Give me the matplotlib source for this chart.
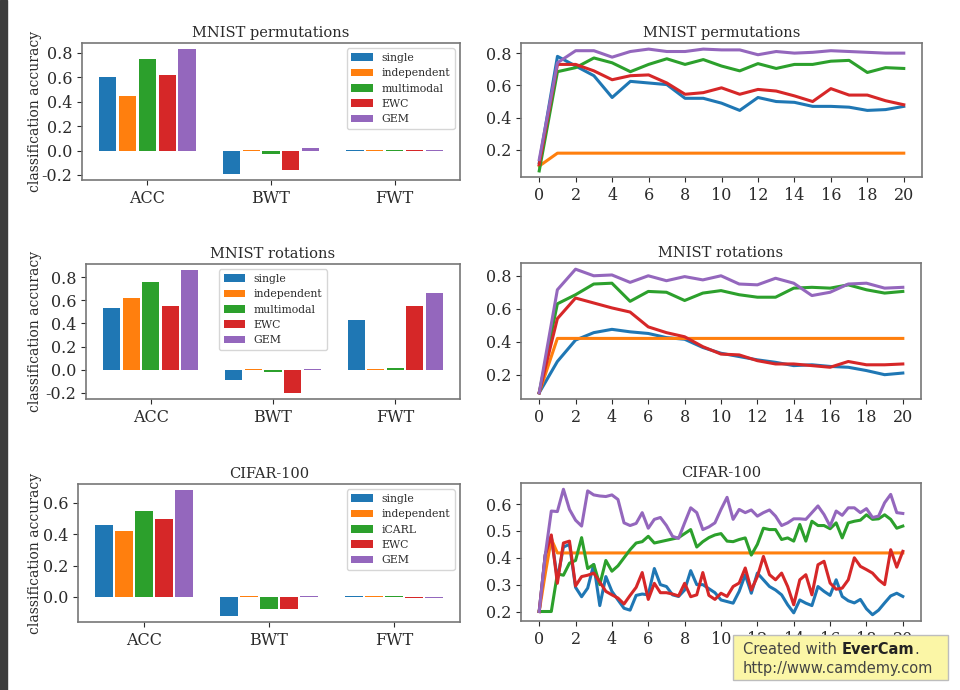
import matplotlib
matplotlib.use('Agg')
import matplotlib.pyplot as plt
from matplotlib.patches import Rectangle
import numpy as np

plt.rcParams['font.family'] = ['DejaVu Serif']
plt.rcParams['axes.unicode_minus'] = False

colors = ['#1f77b4', '#ff7f0e', '#2ca02c', '#d62728', '#9467bd']
metrics = ['ACC', 'BWT', 'FWT']
methods_mnist = ['single', 'independent', 'multimodal', 'EWC', 'GEM']
methods_cifar = ['single', 'independent', 'iCARL', 'EWC', 'GEM']

# bar values, one list per method: ACC, BWT, FWT
perm_bars = [[0.60, -0.19, 0.008],
             [0.45, 0.004, 0.006],
             [0.75, -0.03, 0.006],
             [0.62, -0.16, 0.006],
             [0.83, 0.025, 0.008]]
rot_bars = [[0.53, -0.09, 0.43],
            [0.62, 0.005, 0.004],
            [0.76, -0.02, 0.012],
            [0.55, -0.20, 0.55],
            [0.86, 0.005, 0.66]]
cifar_bars = [[0.46, -0.12, 0.003],
              [0.42, 0.003, 0.003],
              [0.55, -0.08, 0.003],
              [0.50, -0.08, -0.006],
              [0.68, 0.006, -0.006]]

# accuracy over tasks
perm_single = [0.12, 0.78, 0.72, 0.66, 0.525, 0.625, 0.615, 0.605, 0.52, 0.52, 0.49,
               0.445, 0.525, 0.50, 0.495, 0.47, 0.47, 0.465, 0.445, 0.45, 0.47]
perm_indep = [0.10, 0.18, 0.18, 0.18, 0.18, 0.18, 0.18, 0.18, 0.18, 0.18, 0.18,
              0.18, 0.18, 0.18, 0.18, 0.18, 0.18, 0.18, 0.18, 0.18, 0.18]
perm_multi = [0.07, 0.685, 0.71, 0.77, 0.74, 0.685, 0.73, 0.765, 0.73, 0.76, 0.72,
              0.69, 0.735, 0.705, 0.73, 0.73, 0.75, 0.755, 0.68, 0.71, 0.705]
perm_ewc = [0.11, 0.73, 0.73, 0.69, 0.635, 0.66, 0.665, 0.615, 0.545, 0.555, 0.585,
            0.545, 0.575, 0.565, 0.535, 0.50, 0.58, 0.54, 0.54, 0.505, 0.48]
perm_gem = [0.14, 0.74, 0.815, 0.815, 0.775, 0.81, 0.825, 0.81, 0.81, 0.825, 0.82,
            0.82, 0.79, 0.81, 0.80, 0.805, 0.815, 0.81, 0.805, 0.80, 0.80]

rot_single = [0.09, 0.28, 0.41, 0.455, 0.475, 0.46, 0.45, 0.425, 0.415, 0.365, 0.33,
              0.31, 0.29, 0.275, 0.255, 0.26, 0.25, 0.245, 0.225, 0.20, 0.21]
rot_indep = [0.09, 0.42, 0.42, 0.42, 0.42, 0.42, 0.42, 0.42, 0.42, 0.42, 0.42,
             0.42, 0.42, 0.42, 0.42, 0.42, 0.42, 0.42, 0.42, 0.42, 0.42]
rot_multi = [0.09, 0.63, 0.685, 0.75, 0.755, 0.645, 0.705, 0.70, 0.65, 0.695, 0.71,
             0.685, 0.67, 0.67, 0.725, 0.73, 0.725, 0.745, 0.715, 0.695, 0.705]
rot_ewc = [0.09, 0.54, 0.665, 0.635, 0.605, 0.58, 0.49, 0.455, 0.43, 0.37, 0.325,
           0.32, 0.285, 0.265, 0.265, 0.255, 0.245, 0.28, 0.26, 0.26, 0.265]
rot_gem = [0.09, 0.715, 0.84, 0.80, 0.805, 0.76, 0.80, 0.77, 0.795, 0.775, 0.80,
           0.75, 0.745, 0.785, 0.755, 0.68, 0.70, 0.75, 0.755, 0.725, 0.73]

cifar_single = [0.2, 0.41, 0.48, 0.32, 0.44, 0.45, 0.29, 0.255, 0.287, 0.375, 0.222,
                0.33, 0.275, 0.243, 0.212, 0.205, 0.26, 0.265, 0.262, 0.36, 0.3,
                0.293, 0.262, 0.256, 0.28, 0.352, 0.3, 0.3, 0.285, 0.27, 0.243,
                0.237, 0.231, 0.275, 0.337, 0.268, 0.343, 0.318, 0.293, 0.28, 0.262,
                0.225, 0.195, 0.243, 0.231, 0.222, 0.293, 0.275, 0.26, 0.318, 0.256,
                0.24, 0.232, 0.245, 0.21, 0.188, 0.205, 0.232, 0.258, 0.268, 0.256]
cifar_indep = [0.2, 0.34, 0.47, 0.418, 0.418, 0.418, 0.418, 0.418, 0.418, 0.418, 0.418,
               0.418, 0.418, 0.418, 0.418, 0.418, 0.418, 0.418, 0.418, 0.418, 0.418,
               0.418, 0.418, 0.418, 0.418, 0.418, 0.418, 0.418, 0.418, 0.418, 0.418,
               0.418, 0.418, 0.418, 0.418, 0.418, 0.418, 0.418, 0.418, 0.418, 0.418,
               0.418, 0.418, 0.418, 0.418, 0.418, 0.418, 0.418, 0.418, 0.418, 0.418,
               0.418, 0.418, 0.418, 0.418, 0.418, 0.418, 0.418, 0.418, 0.418, 0.418]
cifar_icarl = [0.2, 0.2, 0.2, 0.34, 0.335, 0.38, 0.39, 0.475, 0.36, 0.375, 0.30,
               0.39, 0.35, 0.37, 0.40, 0.43, 0.455, 0.46, 0.48, 0.455, 0.46,
               0.465, 0.47, 0.475, 0.49, 0.505, 0.44, 0.46, 0.475, 0.485, 0.49,
               0.462, 0.46, 0.468, 0.474, 0.41, 0.45, 0.51, 0.505, 0.505, 0.468,
               0.474, 0.462, 0.524, 0.462, 0.536, 0.52, 0.52, 0.508, 0.53, 0.474,
               0.53, 0.536, 0.54, 0.56, 0.543, 0.545, 0.56, 0.543, 0.51, 0.518]
cifar_ewc = [0.2, 0.41, 0.485, 0.305, 0.455, 0.462, 0.295, 0.33, 0.335, 0.343, 0.31,
             0.275, 0.262, 0.25, 0.228, 0.26, 0.29, 0.345, 0.245, 0.305, 0.27,
             0.27, 0.265, 0.258, 0.305, 0.255, 0.262, 0.345, 0.26, 0.245, 0.268,
             0.256, 0.293, 0.306, 0.362, 0.28, 0.33, 0.405, 0.337, 0.318, 0.343,
             0.293, 0.225, 0.318, 0.337, 0.262, 0.374, 0.387, 0.306, 0.283, 0.287,
             0.318, 0.4, 0.368, 0.356, 0.343, 0.318, 0.3, 0.43, 0.365, 0.424]
cifar_gem = [0.2, 0.41, 0.574, 0.572, 0.655, 0.58, 0.54, 0.518, 0.649, 0.634, 0.63,
             0.628, 0.634, 0.617, 0.53, 0.52, 0.528, 0.568, 0.51, 0.543, 0.55,
             0.52, 0.48, 0.472, 0.53, 0.586, 0.568, 0.505, 0.515, 0.53, 0.58,
             0.625, 0.543, 0.58, 0.568, 0.578, 0.555, 0.568, 0.578, 0.555, 0.52,
             0.53, 0.545, 0.545, 0.543, 0.568, 0.593, 0.561, 0.518, 0.574, 0.558,
             0.586, 0.586, 0.568, 0.583, 0.55, 0.555, 0.605, 0.636, 0.568, 0.565]

tasks = np.arange(21)
cifar_x = np.arange(61) / 3.0

fig = plt.figure(figsize=(9.6, 6.9), dpi=100)
fig.patches.append(Rectangle((0, 0), 7 / 960, 1, transform=fig.transFigure,
                             color='#3c3c3c', zorder=0))

text_col = '#2b2b2b'
spine_col = '#777777'


def style(ax):
    for s in ax.spines.values():
        s.set_color(spine_col)
        s.set_linewidth(1.2)
    ax.tick_params(labelsize=11.5, colors=text_col, length=3.5)
    for lab in ax.get_xticklabels() + ax.get_yticklabels():
        lab.set_color(text_col)


def bar_panel(rect, values, names, title, yticks, loc, anchor=None):
    ax = fig.add_axes(rect)
    xs = np.arange(len(metrics))
    for i, vals in enumerate(values):
        ax.bar(xs + (i - 2) * 0.16, vals, width=0.14, color=colors[i], label=names[i])
    ax.set_xticks(xs)
    ax.set_xticklabels(metrics)
    ax.set_yticks(yticks)
    ax.set_title(title, fontsize=10.5, color=text_col, pad=4)
    ax.set_ylabel('classification accuracy', fontsize=10, color=text_col)
    # same absolute x for every ylabel (right edge ~42 px)
    ax.yaxis.set_label_coords((42 / 960 - rect[0]) / rect[2], 0.5)
    if anchor is None:
        leg = ax.legend(loc=loc, fontsize=7.8, handlelength=2.0, labelspacing=0.5)
    else:
        leg = ax.legend(loc=loc, bbox_to_anchor=anchor, fontsize=7.8,
                        handlelength=2.0, labelspacing=0.5)
    for t in leg.get_texts():
        t.set_color(text_col)
    style(ax)
    return ax


def line_panel(rect, x, series, title, yticks):
    ax = fig.add_axes(rect)
    for i, ys in enumerate(series):
        ax.plot(x, ys, color=colors[i], lw=2.2)
    ax.set_xticks(np.arange(0, 21, 2))
    ax.set_yticks(yticks)
    ax.set_title(title, fontsize=10.5, color=text_col, pad=4)
    style(ax)
    return ax


bar_panel([82 / 960, 1 - 180 / 690, 378 / 960, 137 / 690], perm_bars, methods_mnist,
          'MNIST permutations', [-0.2, 0.0, 0.2, 0.4, 0.6, 0.8], 'upper right')
line_panel([521 / 960, 1 - 177 / 690, 401 / 960, 134 / 690], tasks,
           [perm_single, perm_indep, perm_multi, perm_ewc, perm_gem],
           'MNIST permutations', [0.2, 0.4, 0.6, 0.8])

bar_panel([86 / 960, 1 - 399 / 690, 374 / 960, 135 / 690], rot_bars, methods_mnist,
          'MNIST rotations', [-0.2, 0.0, 0.2, 0.4, 0.6, 0.8], 'upper center',
          anchor=(0.5, 1.0))
line_panel([521 / 960, 1 - 399 / 690, 400 / 960, 136 / 690], tasks,
           [rot_single, rot_indep, rot_multi, rot_ewc, rot_gem],
           'MNIST rotations', [0.2, 0.4, 0.6, 0.8])

bar_panel([78 / 960, 1 - 622 / 690, 382 / 960, 138 / 690], cifar_bars, methods_cifar,
          'CIFAR-100', [0.0, 0.2, 0.4, 0.6], 'upper right')
line_panel([521 / 960, 1 - 621 / 690, 400 / 960, 138 / 690], cifar_x,
           [cifar_single, cifar_indep, cifar_icarl, cifar_ewc, cifar_gem],
           'CIFAR-100', [0.2, 0.3, 0.4, 0.5, 0.6])

# screen recorder stamp (covers part of the last x axis, as in the screenshot)
fig.patches.append(Rectangle((733 / 960, 1 - 680 / 690), 215 / 960, 45 / 690,
                             transform=fig.transFigure, facecolor='#fbf6a6',
                             edgecolor='#bdbdbd', lw=1, zorder=5))
fig.text(743 / 960, 1 - 650 / 690, 'Created with', fontsize=10.5, family='DejaVu Sans',
         color='#444444', va='center', zorder=6)
fig.text(842 / 960, 1 - 650 / 690, 'EverCam', fontsize=10.5, family='DejaVu Sans',
         weight='bold', color='#222222', va='center', zorder=6)
fig.text(914 / 960, 1 - 650 / 690, '.', fontsize=10.5, family='DejaVu Sans',
         color='#444444', va='center', zorder=6)
fig.text(743 / 960, 1 - 668 / 690, 'http://www.camdemy.com', fontsize=10.5,
         family='DejaVu Sans', color='#444444', va='center', zorder=6)

fig.savefig('out.png', dpi=100)
